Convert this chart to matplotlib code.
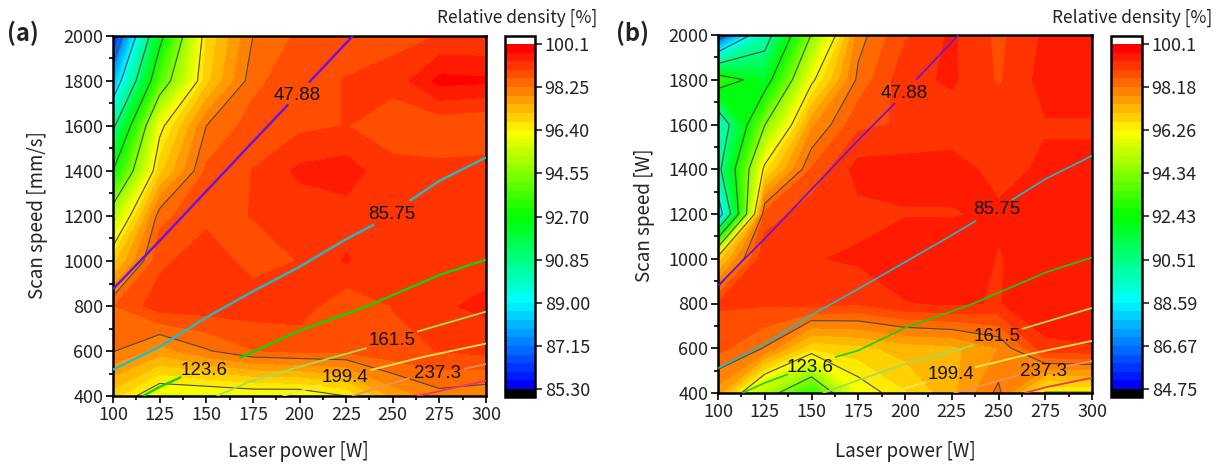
import numpy as np
import matplotlib
matplotlib.use("Agg")
import matplotlib.pyplot as plt
from matplotlib.colors import LinearSegmentedColormap, BoundaryNorm

W, H = 1223, 467
power = [100, 125, 150, 175, 200, 225, 250, 275, 300]
speed = [400, 600, 800, 1000, 1200, 1400, 1600, 1800, 2000]

# Relative density, rows follow `speed`
density_a = [
    [96.9, 95.9, 95.9, 96.0, 96.0, 96.4, 97.6, 98.1, 97.95],
    [98.28, 97.7, 98.2, 98.6, 98.7, 98.7, 98.9, 99.0, 99.1],
    [98.6, 99.2, 99.2, 99.2, 99.2, 98.7, 99.0, 99.3, 99.45],
    [97.0, 98.9, 99.2, 98.85, 99.0, 99.4, 99.0, 99.0, 99.2],
    [95.2, 98.5, 98.9, 99.0, 99.1, 99.2, 99.1, 99.1, 99.3],
    [92.7, 97.0, 98.7, 99.0, 99.45, 99.55, 99.1, 99.1, 99.2],
    [90.6, 96.2, 98.25, 98.8, 98.9, 99.0, 98.8, 98.7, 98.6],
    [88.0, 93.8, 97.0, 98.5, 98.9, 99.0, 99.1, 99.85, 99.8],
    [85.8, 92.3, 96.8, 98.25, 98.7, 98.9, 98.9, 99.0, 99.0],
]
density_b = [
    [97.6, 94.9, 93.0, 95.9, 96.6, 97.3, 98.3, 96.2, 96.2],
    [98.7, 98.15, 96.7, 96.9, 97.2, 97.3, 97.8, 99.2, 99.3],
    [99.0, 99.0, 99.1, 99.0, 99.3, 99.4, 99.3, 99.7, 99.7],
    [96.8, 99.3, 99.3, 99.4, 99.7, 99.7, 99.3, 99.6, 99.6],
    [87.5, 98.7, 99.2, 99.2, 99.3, 99.3, 99.4, 99.6, 99.5],
    [90.1, 96.5, 98.6, 99.5, 99.5, 99.5, 99.2, 99.4, 99.4],
    [89.3, 94.3, 97.7, 98.85, 99.0, 99.1, 99.2, 99.3, 99.3],
    [93.2, 91.8, 96.1, 98.3, 99.2, 99.4, 98.9, 99.5, 99.5],
    [85.8, 89.8, 94.4, 98.0, 98.9, 99.4, 98.85, 99.4, 99.4],
]

bar_labels_a = ["85.30", "87.15", "89.00", "90.85", "92.70", "94.55", "96.40", "98.25", "100.1"]
bar_labels_b = ["84.75", "86.67", "88.59", "90.51", "92.43", "94.34", "96.26", "98.18", "100.1"]

# Energy-density lines: (power, speed) vertices per segment
e47_a = [[(100, 875), (125, 1090), (150, 1310), (175, 1530), (194, 1696)], [(205, 1793), (228.6, 2000)]]
e47_b = [[(100, 880), (125, 1090), (150, 1310), (175, 1530), (194.6, 1695)], [(206, 1800), (228.6, 2000)]]
e85_a = [[(100, 517), (125, 619), (150, 749), (175, 865), (200, 974), (225, 1097), (240, 1162)],
         [(259, 1267), (275, 1356), (300, 1460)]]
e85_b = [[(100, 510), (125, 619), (150, 749), (175, 865), (200, 985), (225, 1105), (238, 1170)],
         [(257, 1262), (275, 1356), (300, 1460)]]
e123_a = [[(116, 400), (125, 440), (136.6, 484)], [(167.8, 568), (200, 691), (235.7, 797), (275, 938), (300, 1006)]]
e123_b = [[(113, 400), (125, 445), (137.5, 484)], [(162.5, 560), (175, 590), (200, 691), (235.7, 797), (275, 938), (300, 1006)]]
e161_a = [[(155.6, 400), (173, 463), (200, 530), (236, 613)], [(263, 686), (300, 775)]]
e161_b = [[(156, 400), (177, 463), (200, 530), (236.6, 613)], [(262.5, 686), (300, 780)]]
e199_a = [[(191, 400), (212, 450)], [(238, 515), (266, 573), (300, 633)]]
e199_b = [[(195.5, 410), (211.6, 450)], [(237.5, 515), (266, 573), (300, 633)]]
e237_a = [[(228, 400), (259, 480)], [(288, 520), (300, 542)]]
e237_b = [[(226, 400), (261, 480)], [(286, 520), (300, 542)]]
e275_a = [[(263, 400), (273.5, 419), (300, 468)]]
e275_b = [[(264, 400), (275, 425), (300, 468)]]

line_colors = ["#6a12e0", "#22bcc8", "#12d012", "#a2dc5a", "#f2e45a", "#ee9060", "#f03468"]
lines_a = [e47_a, e85_a, e123_a, e161_a, e199_a, e237_a, e275_a]
lines_b = [e47_b, e85_b, e123_b, e161_b, e199_b, e237_b, e275_b]

plt.rcParams["font.family"] = ["Noto Sans CJK KR", "DejaVu Sans"]
fig = plt.figure(figsize=(W / 100, H / 100), dpi=100)
cmap = LinearSegmentedColormap.from_list(
    "r", ["#0000ff", "#00ffff", "#00ff00", "#ffff00", "#ff0000"], N=40)
cmap.set_under("black")
cmap.set_over("white")


def rect(x0, y0, x1, y1):
    return [x0 / W, 1 - y1 / H, (x1 - x0) / W, (y1 - y0) / H]


def panel(box, cbox, z, labels, segs, letter, lx, ylabel, ylx, xlc, title_r, lw0, notes):
    ax = fig.add_axes(rect(*box))
    lo, hi = float(labels[0]), float(labels[-1])
    levels = np.linspace(lo, hi, 41)
    norm = BoundaryNorm(levels, cmap.N)
    cf = ax.contourf(power, speed, z, levels=levels, cmap=cmap, norm=norm, extend="both")
    ax.contour(power, speed, z, levels=[float(s) for s in labels[1:-1]],
               colors="#4a4a4a", linewidths=0.8)
    for i, (series, c) in enumerate(zip(segs, line_colors)):
        for s in series:
            xs, ys = zip(*s)
            ax.plot(xs, ys, color=c, lw=lw0 if i < 3 else 1.3, solid_capstyle="butt", zorder=3)
    for txt, (x, y) in notes.items():
        ax.text(x, y, txt, family="Liberation Sans", fontsize=13.5, color="#111111",
                ha="center", va="center", zorder=4)
    ax.set_xlim(100, 300)
    ax.set_ylim(400, 2000)
    ax.set_xticks(power)
    ax.set_yticks(speed)
    ax.set_xticks(np.arange(112.5, 300, 25), minor=True)
    ax.set_yticks(np.arange(500, 2000, 200), minor=True)
    ax.tick_params(which="major", length=5, width=1.4, labelsize=13, colors="#222222", pad=2)
    ax.tick_params(which="minor", length=3, width=1.2)
    for sp in ax.spines.values():
        sp.set_linewidth(1.8)
    fig.text(xlc / W, 1 - 452 / H, "Laser power [W]", fontsize=13.5, ha="center", va="center", color="#222222")
    fig.text(ylx / W, 1 - 215 / H, ylabel, fontsize=13.5, rotation=90, ha="center", va="center", color="#222222")
    fig.text(lx / W, 1 - 33 / H, letter, fontsize=17, fontweight="bold", ha="left", va="center", color="#222222")

    cax = fig.add_axes(rect(*cbox))
    cb = fig.colorbar(cf, cax=cax, extend="both", extendrect=True, extendfrac=0.023,
                      drawedges=False, spacing="proportional",
                      ticks=[float(s) for s in labels])
    cb.ax.minorticks_off()
    cb.set_ticklabels(labels)
    cb.ax.tick_params(labelsize=13, length=5, width=1.2, colors="#222222", pad=2)
    cb.outline.set_linewidth(1.8)
    fig.text(title_r / W, 1 - 18 / H, "Relative density [%]", fontsize=12.5, ha="right", va="center", color="#222222")


panel((113, 36, 486, 396), (505, 36, 535, 397), density_a, bar_labels_a, lines_a,
      "(a)", 7, "Scan speed [mm/s]", 38, 298, 597, 1.7,
      {"47.88": (199, 1737), "85.75": (249.6, 1208), "123.6": (149, 515),
       "161.5": (249.6, 648), "199.4": (224.4, 484), "237.3": (274, 502)})
panel((718, 35, 1092, 393), (1111, 36, 1142, 397), density_b, bar_labels_b, lines_b,
      "(b)", 616, "Scan speed [W]", 645, 905, 1212, 1.2,
      {"47.88": (199.5, 1739), "85.75": (249, 1221), "123.6": (149, 515),
       "161.5": (249, 654), "199.4": (224.6, 484), "237.3": (274, 498)})

fig.savefig("out.png", dpi=100)
